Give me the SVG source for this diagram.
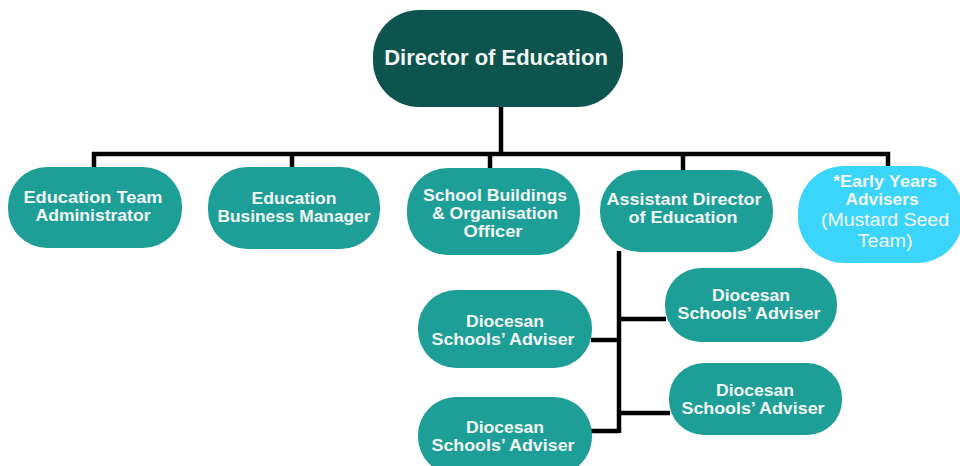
<svg xmlns="http://www.w3.org/2000/svg" width="960" height="466" viewBox="0 0 960 466">
  <style>
    .lead { fill: #0d534e; }
    .role { fill: #1d9f97; }
    .sky { fill: #3bd4fa; }
    .wire { fill: none; stroke: #000; stroke-width: 4.5; stroke-linejoin: miter; stroke-linecap: butt; }
    text { font-family: "Liberation Sans", Arial, sans-serif; fill: #f3f8f6; text-anchor: middle; }
    .b { font-weight: bold; font-size: 16px; }
    .r { font-weight: normal; font-size: 18px; }
    .title { font-weight: bold; font-size: 22px; }
  </style>
  <rect width="960" height="466" fill="#ffffff"/>

  <!-- connectors -->
  <g id="connectors">
    <path class="wire" d="M501 107 V154"/>
    <path class="wire" d="M94 168 V154 H888 V167"/>
    <path class="wire" d="M292 154 V168"/>
    <path class="wire" d="M490 154 V169"/>
    <path class="wire" d="M683 154 V171"/>
    <path class="wire" d="M619 251 V433"/>
    <path class="wire" d="M619 319 H666"/>
    <path class="wire" d="M591 340 H619"/>
    <path class="wire" d="M619 413 H670"/>
    <path class="wire" d="M591 431 H619"/>
  </g>

  <!-- top -->
  <g id="director">
    <rect class="lead" x="373" y="10" width="250" height="97" rx="46"/>
    <text class="title" x="496" y="65">Director of Education</text>
  </g>

  <!-- second level -->
  <g id="team-administrator">
    <rect class="role" x="8" y="167" width="174" height="81" rx="39"/>
    <text class="b" x="93" y="203" textLength="139" lengthAdjust="spacingAndGlyphs">Education Team</text>
    <text class="b" x="93" y="221" textLength="115" lengthAdjust="spacingAndGlyphs">Administrator</text>
  </g>
  <g id="business-manager">
    <rect class="role" x="208" y="167" width="172" height="82" rx="39"/>
    <text class="b" x="294" y="204" textLength="85" lengthAdjust="spacingAndGlyphs">Education</text>
    <text class="b" x="294" y="222" textLength="153" lengthAdjust="spacingAndGlyphs">Business Manager</text>
  </g>
  <g id="buildings-officer">
    <rect class="role" x="407" y="168" width="173" height="87" rx="41"/>
    <text class="b" x="495" y="201" textLength="144" lengthAdjust="spacingAndGlyphs">School Buildings</text>
    <text class="b" x="495" y="219" textLength="126" lengthAdjust="spacingAndGlyphs">&amp; Organisation</text>
    <text class="b" x="493" y="237" textLength="59" lengthAdjust="spacingAndGlyphs">Officer</text>
  </g>
  <g id="assistant-director">
    <rect class="role" x="600" y="170" width="173" height="82" rx="40"/>
    <text class="b" x="684" y="205" textLength="155" lengthAdjust="spacingAndGlyphs">Assistant Director</text>
    <text class="b" x="683" y="223" textLength="109" lengthAdjust="spacingAndGlyphs">of Education</text>
  </g>
  <g id="early-years">
    <rect class="sky" x="798" y="166" width="165" height="97" rx="46"/>
    <text class="b" x="885" y="187" textLength="104" lengthAdjust="spacingAndGlyphs">*Early Years</text>
    <text class="b" x="882" y="205" textLength="73" lengthAdjust="spacingAndGlyphs">Advisers</text>
    <text class="r" x="885" y="226" textLength="128" lengthAdjust="spacingAndGlyphs">(Mustard Seed</text>
    <text class="r" x="885" y="247" textLength="55" lengthAdjust="spacingAndGlyphs">Team)</text>
  </g>

  <!-- advisers -->
  <g id="adviser-1">
    <rect class="role" x="418" y="290" width="174" height="78" rx="38"/>
    <text class="b" x="505" y="327" textLength="78" lengthAdjust="spacingAndGlyphs">Diocesan</text>
    <text class="b" x="503" y="345" textLength="143" lengthAdjust="spacingAndGlyphs">Schools’ Adviser</text>
  </g>
  <g id="adviser-2">
    <rect class="role" x="665" y="268" width="172" height="74" rx="36"/>
    <text class="b" x="751" y="301" textLength="78" lengthAdjust="spacingAndGlyphs">Diocesan</text>
    <text class="b" x="749" y="319" textLength="143" lengthAdjust="spacingAndGlyphs">Schools’ Adviser</text>
  </g>
  <g id="adviser-3">
    <rect class="role" x="418" y="397" width="174" height="78" rx="38"/>
    <text class="b" x="505" y="433" textLength="78" lengthAdjust="spacingAndGlyphs">Diocesan</text>
    <text class="b" x="503" y="451" textLength="143" lengthAdjust="spacingAndGlyphs">Schools’ Adviser</text>
  </g>
  <g id="adviser-4">
    <rect class="role" x="669" y="363" width="173" height="72" rx="35"/>
    <text class="b" x="755" y="396" textLength="78" lengthAdjust="spacingAndGlyphs">Diocesan</text>
    <text class="b" x="753" y="414" textLength="143" lengthAdjust="spacingAndGlyphs">Schools’ Adviser</text>
  </g>
</svg>
